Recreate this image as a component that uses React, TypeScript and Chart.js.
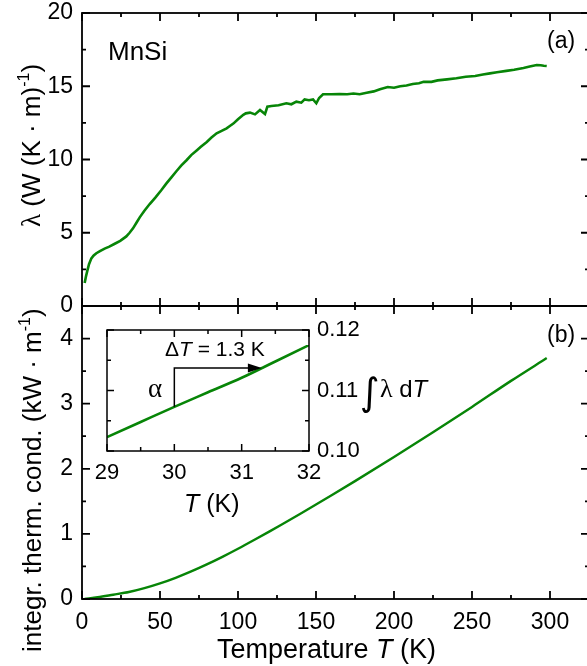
import React, { useEffect, useRef } from 'react';
import { Chart, registerables } from 'chart.js';

Chart.register(...registerables);

// ---------- data ----------
const tempA = [
  1.7, 2.5, 3.4, 4.5, 6, 7.5, 9.2, 11.5, 14.5, 17.5,
  21, 24.5, 28.4, 30.5, 32.7, 35, 37, 40, 43.4, 47,
  50.8, 54, 57.3, 60.5, 63.7, 67, 70, 73.3, 76, 80,
  83, 86.3, 89.5, 92.7, 95, 97, 100, 103.4, 105, 107.7,
  110.9, 114.1, 117.3, 118.8, 121.4, 126, 131, 134.2, 137.4, 140.6,
  142.7, 145.5, 148.1, 150.2, 152, 154.5, 160, 165, 170, 174,
  178, 182.5, 187, 191, 196, 200, 204, 208, 212, 216,
  219, 224, 228, 234, 240, 246, 252, 257, 261.5, 266,
  272, 277, 283, 287, 291.5, 294, 296, 297.9,
];
const lambdaA = [
  1.57, 2.0, 2.4, 2.85, 3.25, 3.45, 3.6, 3.75, 3.92, 4.05,
  4.25, 4.45, 4.75, 5.0, 5.3, 5.7, 6.05, 6.5, 6.96, 7.4,
  7.9, 8.35, 8.78, 9.2, 9.6, 9.95, 10.3, 10.6, 10.85, 11.2,
  11.5, 11.79, 11.95, 12.13, 12.3, 12.45, 12.75, 13.05, 13.15, 13.2,
  13.08, 13.38, 13.1, 13.6, 13.65, 13.7, 13.84, 13.77, 13.95, 13.88,
  14.1, 14.05, 14.1, 13.84, 14.2, 14.45, 14.45, 14.47, 14.45, 14.5,
  14.45, 14.55, 14.65, 14.8, 14.95, 14.9, 15.0, 15.05, 15.15, 15.2,
  15.3, 15.3, 15.4, 15.47, 15.55, 15.65, 15.7, 15.8, 15.88, 15.95,
  16.05, 16.12, 16.25, 16.35, 16.45, 16.43, 16.4, 16.38,
];

const tempB = [
  1.7, 10, 20, 30, 40, 50, 60, 70, 80, 90,
  100, 110, 120, 130, 140, 150, 160, 175, 200, 225,
  250, 275, 297.9,
];
const integB = [
  0, 0.026, 0.066, 0.107, 0.167, 0.24, 0.326, 0.424, 0.532, 0.648,
  0.772, 0.902, 1.035, 1.172, 1.31, 1.45, 1.593, 1.81, 2.18, 2.56,
  2.95, 3.35, 3.70,
];

const tempInset = [29, 29.5, 30, 30.5, 31, 31.5, 32];
const integInset = [0.1023, 0.1048, 0.1073, 0.1097, 0.1121, 0.1148, 0.1175];

// annotation values (inset)
const alphaT = 30;
const alphaBase = 0.1073;
const arrowLevel = 0.1137;
const arrowEndT = 31.3;

// tick values
const xMajorMain = [0, 50, 100, 150, 200, 250, 300];
const xMinorMain = [25, 75, 125, 175, 225, 275, 325];
const yMajorA = [0, 5, 10, 15, 20];
const yMinorA = [2.5, 7.5, 12.5, 17.5];
const yMajorB = [0, 1, 2, 3, 4];
const yMinorB = [0.5, 1.5, 2.5, 3.5];
const xMajorInset = [29, 30, 31, 32];
const xMinorInset = [29.5, 30.5, 31.5];
const yMajorInset = [0.1, 0.11, 0.12];
const yMinorInset = [0.105, 0.115];

// ---------- styles ----------
const GREEN = '#078507';
const SANS = '"Liberation Sans", Arial, sans-serif';
const SERIF = '"Liberation Serif", "DejaVu Serif", serif';
const W = 600;
const H = 666;

type Seg = { t: string; font: string; dy?: number };
function drawSegs(ctx: CanvasRenderingContext2D, segs: Seg[], x: number, y: number) {
  let cx = x;
  for (const s of segs) {
    ctx.font = s.font;
    ctx.fillText(s.t, cx, y + (s.dy || 0));
    cx += ctx.measureText(s.t).width;
  }
}

// fix an axis' thickness and stop its labels from pushing the plot area
const fixSize = (size: number) => (s: any) => {
  if (s.isHorizontal()) s.height = size;
  else s.width = size;
  s.paddingTop = 0;
  s.paddingBottom = 0;
  s.paddingLeft = 0;
  s.paddingRight = 0;
};

const framePlugin = {
  id: 'frameTicks',
  afterDraw(chart: any, _args: any, opts: any) {
    const { ctx, chartArea: a } = chart;
    const xs = chart.scales.x;
    const ys = chart.scales.y;
    ctx.save();
    ctx.strokeStyle = '#000';
    ctx.lineWidth = opts.lw;
    ctx.beginPath();
    const vx = (vals: number[], len: number) => {
      for (const v of vals) {
        const p = xs.getPixelForValue(v);
        ctx.moveTo(p, a.bottom);
        ctx.lineTo(p, a.bottom - len);
        ctx.moveTo(p, a.top);
        ctx.lineTo(p, a.top + len);
      }
    };
    const vy = (vals: number[], len: number) => {
      for (const v of vals) {
        const p = ys.getPixelForValue(v);
        ctx.moveTo(a.left, p);
        ctx.lineTo(a.left + len, p);
        ctx.moveTo(a.right, p);
        ctx.lineTo(a.right - len, p);
      }
    };
    vx(opts.xMajor, opts.major);
    vx(opts.xMinor, opts.minor);
    vy(opts.yMajor, opts.major);
    vy(opts.yMinor, opts.minor);
    ctx.stroke();
    ctx.strokeRect(a.left, a.top, a.right - a.left, a.bottom - a.top);
    ctx.restore();
  },
};

function textPlugin(id: string, fn: (chart: any) => void) {
  return {
    id,
    afterDraw(chart: any) {
      const ctx = chart.ctx;
      ctx.save();
      ctx.fillStyle = '#000';
      ctx.strokeStyle = '#000';
      fn(chart);
      ctx.restore();
    },
  };
}

const whiteBg = {
  id: 'whiteBg',
  beforeDraw(chart: any) {
    const { ctx, chartArea: a } = chart;
    ctx.save();
    ctx.fillStyle = '#fff';
    ctx.fillRect(a.left, a.top, a.right - a.left, a.bottom - a.top);
    ctx.restore();
  },
};

const tickFont = (size: number) => ({ family: SANS, size, lineHeight: 1 });

function topChart(canvas: HTMLCanvasElement) {
  return new Chart(canvas, {
    type: 'line',
    data: {
      datasets: [
        {
          data: tempA.map((x, i) => ({ x, y: lambdaA[i] })),
          borderColor: GREEN,
          borderWidth: 2.6,
          pointRadius: 0,
          tension: 0,
        },
      ],
    },
    options: {
      responsive: false,
      animation: false,
      devicePixelRatio: 1,
      layout: { autoPadding: false, padding: { left: 0, top: 13, right: W - 589, bottom: H - 306 } },
      plugins: {
        legend: { display: false },
        tooltip: { enabled: false },
        frameTicks: { lw: 1.8, major: 8, minor: 4, xMajor: xMajorMain, xMinor: xMinorMain, yMajor: yMajorA, yMinor: yMinorA },
      } as any,
      scales: {
        x: { type: 'linear', min: 0, max: 325, display: false, ticks: { display: false }, afterFit: fixSize(0) },
        y: {
          type: 'linear',
          min: 0,
          max: 20,
          grid: { display: false, drawTicks: false },
          border: { display: false },
          afterBuildTicks: (s: any) => { s.ticks = yMajorA.map((v) => ({ value: v })); },
          afterFit: fixSize(82),
          ticks: { font: tickFont(23), color: '#000', padding: 9 },
        },
      },
    } as any,
    plugins: [
      framePlugin,
      textPlugin('textA', (chart) => {
        const ctx = chart.ctx;
        ctx.textBaseline = 'alphabetic';
        ctx.textAlign = 'left';
        drawSegs(ctx, [{ t: 'MnSi', font: `26px ${SANS}` }], 108, 60);
        ctx.textBaseline = 'middle';
        drawSegs(ctx, [{ t: '(a)', font: `23px ${SANS}` }], 547, 42);
        ctx.textBaseline = 'alphabetic';
        ctx.translate(40, 227);
        ctx.rotate(-Math.PI / 2);
        drawSegs(ctx, [
          { t: 'λ', font: `27px ${SERIF}` },
          { t: ' (W (K · m)', font: `26px ${SANS}` },
          { t: '-1', font: `16px ${SANS}`, dy: -11 },
          { t: ')', font: `26px ${SANS}` },
        ], 0, 0);
      }),
    ],
  } as any);
}

function bottomChart(canvas: HTMLCanvasElement) {
  return new Chart(canvas, {
    type: 'line',
    data: {
      datasets: [
        {
          data: tempB.map((x, i) => ({ x, y: integB[i] })),
          borderColor: GREEN,
          borderWidth: 2.4,
          pointRadius: 0,
          cubicInterpolationMode: 'monotone',
        },
      ],
    },
    options: {
      responsive: false,
      animation: false,
      devicePixelRatio: 1,
      layout: { autoPadding: false, padding: { left: 0, top: 306, right: W - 589, bottom: 7 } },
      plugins: {
        legend: { display: false },
        tooltip: { enabled: false },
        frameTicks: { lw: 1.8, major: 8, minor: 4, xMajor: xMajorMain, xMinor: xMinorMain, yMajor: yMajorB, yMinor: yMinorB },
      } as any,
      scales: {
        x: {
          type: 'linear',
          min: 0,
          max: 325,
          grid: { display: false, drawTicks: false },
          border: { display: false },
          afterBuildTicks: (s: any) => { s.ticks = xMajorMain.map((v) => ({ value: v })); },
          afterFit: fixSize(60),
          ticks: { font: tickFont(23), color: '#000', padding: 12, maxRotation: 0, autoSkip: false },
        },
        y: {
          type: 'linear',
          min: 0,
          max: 4.5,
          grid: { display: false, drawTicks: false },
          border: { display: false },
          afterBuildTicks: (s: any) => { s.ticks = yMajorB.map((v) => ({ value: v })); },
          afterFit: fixSize(82),
          ticks: { font: tickFont(23), color: '#000', padding: 9 },
        },
      },
    } as any,
    plugins: [
      framePlugin,
      textPlugin('textB', (chart) => {
        const ctx = chart.ctx;
        ctx.textAlign = 'left';
        ctx.textBaseline = 'middle';
        drawSegs(ctx, [{ t: '(b)', font: `23px ${SANS}` }], 547, 336);
        ctx.textBaseline = 'alphabetic';
        drawSegs(ctx, [
          { t: 'Temperature ', font: `27px ${SANS}` },
          { t: 'T', font: `italic 27px ${SANS}` },
          { t: ' (K)', font: `27px ${SANS}` },
        ], 217, 658);
        ctx.translate(41, 652);
        ctx.rotate(-Math.PI / 2);
        drawSegs(ctx, [
          { t: 'integr. therm. cond. (kW · m', font: `26px ${SANS}` },
          { t: '-1', font: `16px ${SANS}`, dy: -11 },
          { t: ')', font: `26px ${SANS}` },
        ], 0, 0);
      }),
    ],
  } as any);
}

function insetChart(canvas: HTMLCanvasElement) {
  return new Chart(canvas, {
    type: 'line',
    data: {
      datasets: [
        {
          data: tempInset.map((x, i) => ({ x, y: integInset[i] })),
          borderColor: GREEN,
          borderWidth: 2.6,
          pointRadius: 0,
          cubicInterpolationMode: 'monotone',
        },
      ],
    },
    options: {
      responsive: false,
      animation: false,
      devicePixelRatio: 1,
      layout: { autoPadding: false, padding: { left: 107, top: 330, right: W - 309 - 60, bottom: H - 451 - 40 } },
      plugins: {
        legend: { display: false },
        tooltip: { enabled: false },
        frameTicks: { lw: 1.5, major: 7, minor: 4, xMajor: xMajorInset, xMinor: xMinorInset, yMajor: yMajorInset, yMinor: yMinorInset },
      } as any,
      scales: {
        x: {
          type: 'linear',
          min: 29,
          max: 32,
          grid: { display: false, drawTicks: false },
          border: { display: false },
          afterBuildTicks: (s: any) => { s.ticks = xMajorInset.map((v) => ({ value: v })); },
          afterFit: fixSize(40),
          ticks: { font: tickFont(22), color: '#000', padding: 11, maxRotation: 0, autoSkip: false },
        },
        y: {
          type: 'linear',
          position: 'right',
          min: 0.1,
          max: 0.12,
          grid: { display: false, drawTicks: false },
          border: { display: false },
          afterBuildTicks: (s: any) => { s.ticks = yMajorInset.map((v) => ({ value: v })); },
          afterFit: fixSize(60),
          ticks: { font: tickFont(22), color: '#000', padding: 8, callback: (v: any) => Number(v).toFixed(2) },
        },
      },
    } as any,
    plugins: [
      whiteBg,
      framePlugin,
      textPlugin('textInset', (chart) => {
        const ctx = chart.ctx;
        const xs = chart.scales.x;
        const ys = chart.scales.y;
        // step annotation
        const x0 = xs.getPixelForValue(alphaT);
        const x1 = xs.getPixelForValue(arrowEndT);
        const yb = ys.getPixelForValue(alphaBase);
        const yl = ys.getPixelForValue(arrowLevel);
        ctx.lineWidth = 1.5;
        ctx.beginPath();
        ctx.moveTo(x0, yb);
        ctx.lineTo(x0, yl);
        ctx.lineTo(x1 - 10, yl);
        ctx.stroke();
        ctx.beginPath();
        ctx.moveTo(x1, yl);
        ctx.lineTo(x1 - 14, yl - 4.5);
        ctx.lineTo(x1 - 14, yl + 4.5);
        ctx.closePath();
        ctx.fill();
        ctx.textAlign = 'left';
        ctx.textBaseline = 'alphabetic';
        drawSegs(ctx, [
          { t: 'Δ', font: `21px ${SANS}` },
          { t: 'T', font: `italic 21px ${SANS}` },
          { t: ' = 1.3 K', font: `21px ${SANS}` },
        ], 165, 356);
        drawSegs(ctx, [{ t: 'α', font: `27px ${SERIF}` }], 148, 397);
        // right label
        drawSegs(ctx, [{ t: '∫', font: `38px "DejaVu Sans", sans-serif` }], 360, 405);
        drawSegs(ctx, [
          { t: 'λ', font: `26px ${SERIF}` },
          { t: ' d', font: `24px ${SANS}` },
          { t: 'T', font: `italic 24px ${SANS}` },
        ], 380, 397);
        // inset x title
        drawSegs(ctx, [
          { t: 'T', font: `italic 25px ${SANS}` },
          { t: ' (K)', font: `25px ${SANS}` },
        ], 184, 512);
      }),
    ],
  } as any);
}

export default function App() {
  const refB = useRef<HTMLCanvasElement>(null);
  const refA = useRef<HTMLCanvasElement>(null);
  const refI = useRef<HTMLCanvasElement>(null);

  useEffect(() => {
    const charts = [bottomChart(refB.current!), topChart(refA.current!), insetChart(refI.current!)];
    return () => charts.forEach((c) => c.destroy());
  }, []);

  const cs: React.CSSProperties = { position: 'absolute', left: 0, top: 0, width: W, height: H };
  return (
    <div style={{ position: 'fixed', left: 0, top: 0, width: 587, height: 666, overflow: 'hidden', background: '#fff' }}>
      <canvas ref={refB} width={W} height={H} style={cs} />
      <canvas ref={refA} width={W} height={H} style={cs} />
      <canvas ref={refI} width={W} height={H} style={cs} />
    </div>
  );
}
